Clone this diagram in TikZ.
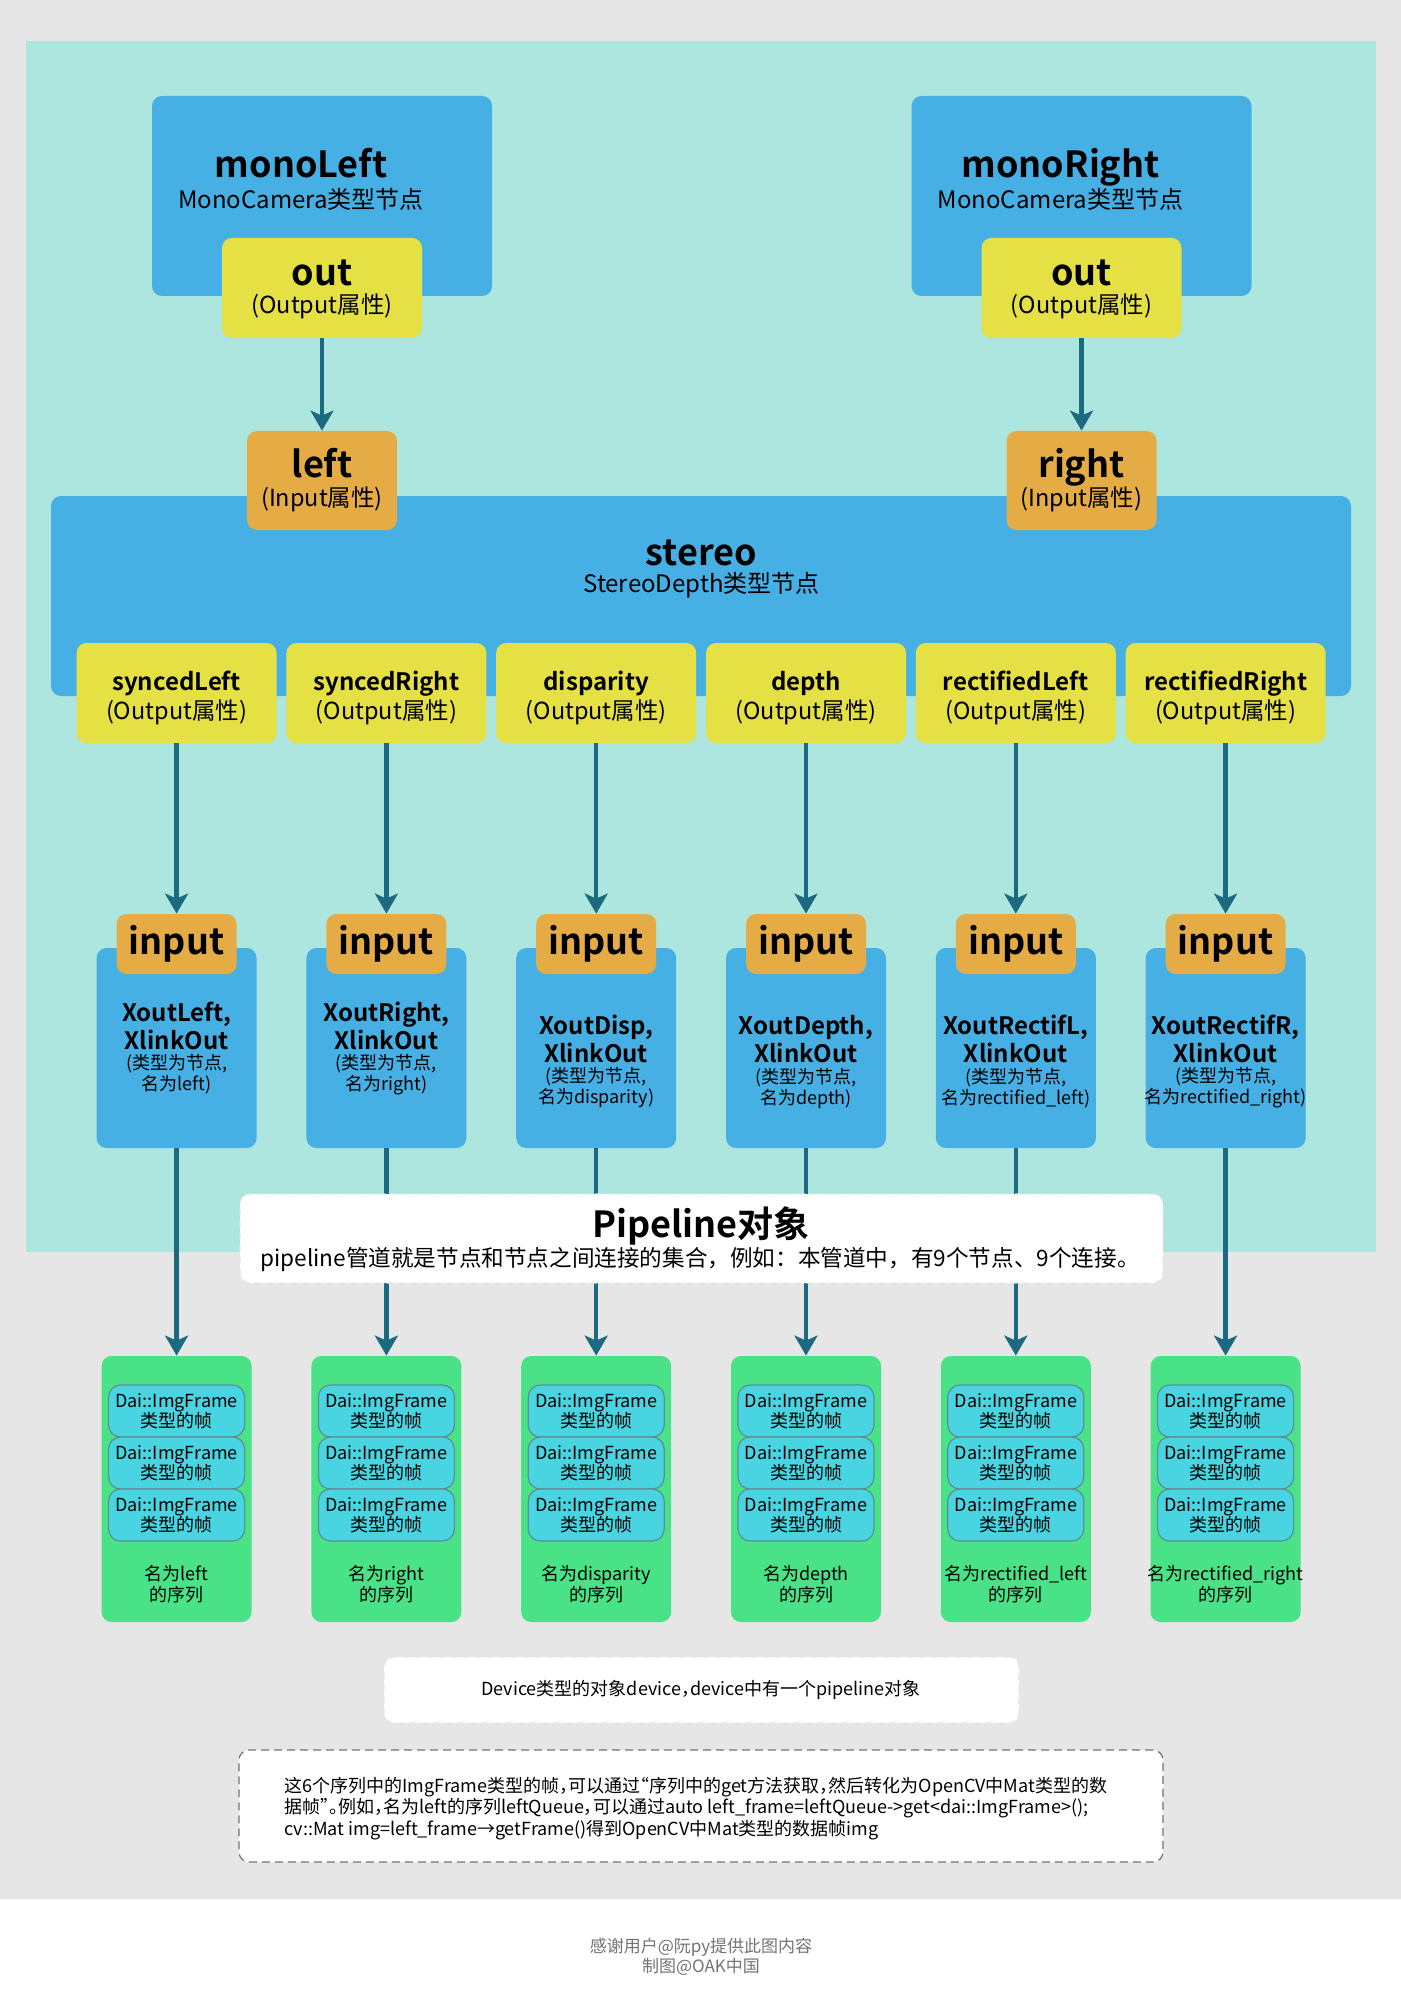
\documentclass[tikz,border=0pt]{standalone}
\usepackage{fontspec}
\setmainfont{Noto Sans CJK SC}[BoldFont={Noto Sans CJK SC Bold}]
\usepackage{tikz}
\usetikzlibrary{arrows.meta}
\definecolor{bgGray}{HTML}{E6E6E6}
\definecolor{panelTeal}{HTML}{ADE5DF}
\definecolor{nodeBlue}{HTML}{46B0E4}
\definecolor{outYellow}{HTML}{E5E144}
\definecolor{inOrange}{HTML}{E5AC46}
\definecolor{seqGreen}{HTML}{4AE287}
\definecolor{frameCyan}{HTML}{48D4E0}
\definecolor{frameEdge}{HTML}{5F8C98}
\definecolor{linkTeal}{HTML}{1C6A80}
\tikzset{box/.style={rounded corners=5pt, inner sep=0pt}}
\tikzset{nodebox/.style={box, fill=nodeBlue}}
\tikzset{outbox/.style={box, fill=outYellow, minimum width=100pt, minimum height=50pt}}
\tikzset{inbox/.style={box, fill=inOrange}}
\tikzset{xobox/.style={nodebox, minimum width=80pt, minimum height=100pt}}
\tikzset{xibox/.style={inbox, minimum width=60pt, minimum height=30pt}}
\tikzset{seqbox/.style={box, fill=seqGreen, minimum width=75pt, minimum height=133pt}}
\tikzset{framebox/.style={rounded corners=6pt, fill=frameCyan, draw=frameEdge, line width=0.6pt, minimum width=68pt, minimum height=26pt, inner sep=0pt, align=center, font=\fontsize{9}{10}\selectfont}}
\tikzset{notebox/.style={box, fill=white, draw=black!10, dashed, line width=0.6pt}}
\tikzset{link/.style={draw=linkTeal, line width=2.2pt, -{Stealth[length=10pt,width=11.5pt,inset=2.5pt]}}}
\tikzset{t/.style={anchor=base, inner sep=0pt, align=center}}
\tikzset{xl/.style={t, font=\fontsize{18}{20}\selectfont\bfseries}}
\tikzset{l/.style={t, font=\fontsize{12}{14}\selectfont\bfseries}}
\tikzset{typ/.style={t, font=\fontsize{12}{14}\selectfont}}
\tikzset{m/.style={t, font=\fontsize{11.75}{14}\selectfont}}
\tikzset{s/.style={inner sep=0pt, align=center, font=\fontsize{9}{10.5}\selectfont}}
\tikzset{xt/.style={inner sep=0pt, align=center, font=\fontsize{12}{14}\selectfont\bfseries}}
\tikzset{half/.style={font=\fontsize{9}{10.75}\selectfont\addfontfeature{RawFeature=+halt}}}

\begin{document}
\begin{tikzpicture}[x=1pt,y=-1pt]
  \useasboundingbox (0,0) rectangle (700.5,1000);
  \fill[bgGray] (0,0) rectangle (700.5,949.5);
  \fill[panelTeal] (13,20.5) rectangle (688,626);
  % mono cameras
  \node[nodebox, minimum width=170pt, minimum height=100pt] (monoL) at (161,98) {};
  \node[xl] (monoLt) at (150.5,89) {monoLeft};
  \node[typ] (monoLs) at (150.5,104.5) {MonoCamera类型节点};
  \node[outbox] (outL) at (161,144) {};
  \node[xl] (outLt) at (161,143) {out};
  \node[m] (outLs) at (161,157) {(Output属性)};
  \node[nodebox, minimum width=170pt, minimum height=100pt] (monoR) at (540.75,98) {};
  \node[xl] (monoRt) at (530.3,89) {monoRight};
  \node[typ] (monoRs) at (530.3,104.5) {MonoCamera类型节点};
  \node[outbox] (outR) at (540.75,144) {};
  \node[xl] (outRt) at (540.75,143) {out};
  \node[m] (outRs) at (540.75,157) {(Output属性)};
  % stereo
  \node[nodebox, minimum width=650pt, minimum height=100pt] (stereo) at (350.5,298) {};
  \node[xl] (stereot) at (350.75,282.5) {stereo};
  \node[typ] (stereos) at (350.75,296) {StereoDepth类型节点};
  \node[inbox, minimum width=75pt, minimum height=49.5pt] (inL) at (161,240.25) {};
  \node[xl] (inLt) at (161,239) {left};
  \node[m] (inLs) at (161,253) {(Input属性)};
  \node[inbox, minimum width=75pt, minimum height=49.5pt] (inR) at (540.75,240.25) {};
  \node[xl] (inRt) at (540.75,239) {right};
  \node[m] (inRs) at (540.75,253) {(Input属性)};
  \draw[link] (outL) -- (inL);
  \draw[link] (outR) -- (inR);
  % stereo outputs
  \node[outbox] (so1) at (88.3,346.5) {};
  \node[l] (so1t) at (88.3,345) {syncedLeft};
  \node[m] (so1s) at (88.3,359.5) {(Output属性)};
  \node[outbox] (so2) at (193.2,346.5) {};
  \node[l] (so2t) at (193.2,345) {syncedRight};
  \node[m] (so2s) at (193.2,359.5) {(Output属性)};
  \node[outbox] (so3) at (298.1,346.5) {};
  \node[l] (so3t) at (298.1,345) {disparity};
  \node[m] (so3s) at (298.1,359.5) {(Output属性)};
  \node[outbox] (so4) at (403,346.5) {};
  \node[l] (so4t) at (403,345) {depth};
  \node[m] (so4s) at (403,359.5) {(Output属性)};
  \node[outbox] (so5) at (507.9,346.5) {};
  \node[l] (so5t) at (507.9,345) {rectifiedLeft};
  \node[m] (so5s) at (507.9,359.5) {(Output属性)};
  \node[outbox] (so6) at (612.8,346.5) {};
  \node[l] (so6t) at (612.8,345) {rectifiedRight};
  \node[m] (so6s) at (612.8,359.5) {(Output属性)};
  % xlink out nodes
  \node[xobox] (xo1) at (88.3,524) {};
  \node[xt] (xo1t) at (88.3,512.9) {XoutLeft,\\XlinkOut};
  \node[s] (xo1s) at (88.3,537.3) {(类型为节点,\\名为left)};
  \node[xibox] (xi1) at (88.3,472) {};
  \node[xl] (xi1t) at (88.3,477) {input};
  \node[xobox] (xo2) at (193.2,524) {};
  \node[xt] (xo2t) at (193.2,512.9) {XoutRight,\\XlinkOut};
  \node[s] (xo2s) at (193.2,537.3) {(类型为节点,\\名为right)};
  \node[xibox] (xi2) at (193.2,472) {};
  \node[xl] (xi2t) at (193.2,477) {input};
  \node[xobox] (xo3) at (298.1,524) {};
  \node[xt] (xo3t) at (298.1,519.6) {XoutDisp,\\XlinkOut};
  \node[s] (xo3s) at (298.1,544) {(类型为节点,\\名为disparity)};
  \node[xibox] (xi3) at (298.1,472) {};
  \node[xl] (xi3t) at (298.1,477) {input};
  \node[xobox] (xo4) at (403,524) {};
  \node[xt] (xo4t) at (403,519.6) {XoutDepth,\\XlinkOut};
  \node[s] (xo4s) at (403,544) {(类型为节点,\\名为depth)};
  \node[xibox] (xi4) at (403,472) {};
  \node[xl] (xi4t) at (403,477) {input};
  \node[xobox] (xo5) at (507.9,524) {};
  \node[xt] (xo5t) at (507.9,519.6) {XoutRectifL,\\XlinkOut};
  \node[s] (xo5s) at (507.9,544) {(类型为节点,\\名为rectified\_left)};
  \node[xibox] (xi5) at (507.9,472) {};
  \node[xl] (xi5t) at (507.9,477) {input};
  \node[xobox] (xo6) at (612.8,524) {};
  \node[xt] (xo6t) at (612.8,519.6) {XoutRectifR,\\XlinkOut};
  \node[s] (xo6s) at (612.8,544) {(类型为节点,\\名为rectified\_right)};
  \node[xibox] (xi6) at (612.8,472) {};
  \node[xl] (xi6t) at (612.8,477) {input};
  % sequences
  \node[seqbox] (sq1) at (88.3,744.5) {};
  \node[seqbox] (sq2) at (193.2,744.5) {};
  \node[seqbox] (sq3) at (298.1,744.5) {};
  \node[seqbox] (sq4) at (403,744.5) {};
  \node[seqbox] (sq5) at (507.9,744.5) {};
  \node[seqbox] (sq6) at (612.8,744.5) {};
  \draw[link] (so1) -- (xi1);
  \draw[link] (so2) -- (xi2);
  \draw[link] (so3) -- (xi3);
  \draw[link] (so4) -- (xi4);
  \draw[link] (so5) -- (xi5);
  \draw[link] (so6) -- (xi6);
  \draw[link] (xo1) -- (sq1);
  \draw[link] (xo2) -- (sq2);
  \draw[link] (xo3) -- (sq3);
  \draw[link] (xo4) -- (sq4);
  \draw[link] (xo5) -- (sq5);
  \draw[link] (xo6) -- (sq6);
  % pipeline
  \node[notebox, minimum width=461.5pt, minimum height=44.5pt] (pipe) at (350.75,619.25) {};
  \node[xl] (pipet) at (350.5,618.5) {Pipeline对象};
  \node[t, font=\fontsize{11.3}{13}\selectfont] (pipes) at (350,633) {pipeline管道就是节点和节点之间连接的集合，例如：本管道中，有9个节点、9个连接。};
  % frames
  \node[framebox] (fr11) at (88.3,705.5) {Dai::ImgFrame\\类型的帧};
  \node[framebox] (fr12) at (88.3,731.5) {Dai::ImgFrame\\类型的帧};
  \node[framebox] (fr13) at (88.3,757.5) {Dai::ImgFrame\\类型的帧};
  \node[s] (sq1t) at (88.3,792) {名为left\\的序列};
  \node[framebox] (fr21) at (193.2,705.5) {Dai::ImgFrame\\类型的帧};
  \node[framebox] (fr22) at (193.2,731.5) {Dai::ImgFrame\\类型的帧};
  \node[framebox] (fr23) at (193.2,757.5) {Dai::ImgFrame\\类型的帧};
  \node[s] (sq2t) at (193.2,792) {名为right\\的序列};
  \node[framebox] (fr31) at (298.1,705.5) {Dai::ImgFrame\\类型的帧};
  \node[framebox] (fr32) at (298.1,731.5) {Dai::ImgFrame\\类型的帧};
  \node[framebox] (fr33) at (298.1,757.5) {Dai::ImgFrame\\类型的帧};
  \node[s] (sq3t) at (298.1,792) {名为disparity\\的序列};
  \node[framebox] (fr41) at (403,705.5) {Dai::ImgFrame\\类型的帧};
  \node[framebox] (fr42) at (403,731.5) {Dai::ImgFrame\\类型的帧};
  \node[framebox] (fr43) at (403,757.5) {Dai::ImgFrame\\类型的帧};
  \node[s] (sq4t) at (403,792) {名为depth\\的序列};
  \node[framebox] (fr51) at (507.9,705.5) {Dai::ImgFrame\\类型的帧};
  \node[framebox] (fr52) at (507.9,731.5) {Dai::ImgFrame\\类型的帧};
  \node[framebox] (fr53) at (507.9,757.5) {Dai::ImgFrame\\类型的帧};
  \node[s] (sq5t) at (507.9,792) {名为rectified\_left\\的序列};
  \node[framebox] (fr61) at (612.8,705.5) {Dai::ImgFrame\\类型的帧};
  \node[framebox] (fr62) at (612.8,731.5) {Dai::ImgFrame\\类型的帧};
  \node[framebox] (fr63) at (612.8,757.5) {Dai::ImgFrame\\类型的帧};
  \node[s] (sq6t) at (612.8,792) {名为rectified\_right\\的序列};
  % device and notes
  \node[notebox, minimum width=317.5pt, minimum height=33pt] (device) at (350.75,845) {};
  \node[t, half] (devicet) at (350.5,847.5) {Device类型的对象device，device中有一个pipeline对象};
  \node[box, fill=white, draw=black!55, dash pattern=on 4pt off 2.5pt, line width=0.6pt, minimum width=462pt, minimum height=56pt] (note) at (350.5,903) {};
  \node[half, inner sep=0pt, anchor=north west, align=left] (notet) at (142,888.2) {这6个序列中的ImgFrame类型的帧，可以通过“序列中的get方法获取，然后转化为OpenCV中Mat类型的数\\据帧”。例如，名为left的序列leftQueue，可以通过auto left\_frame=leftQueue->get<dai::ImgFrame>();\\cv::Mat img=left\_frame→getFrame()得到OpenCV中Mat类型的数据帧img};
  \node[s, font=\fontsize{8.5}{10}\selectfont, text=black!55] (credit) at (350.5,978.6) {感谢用户@阮py提供此图内容\\制图@OAK中国};
\end{tikzpicture}
\end{document}
